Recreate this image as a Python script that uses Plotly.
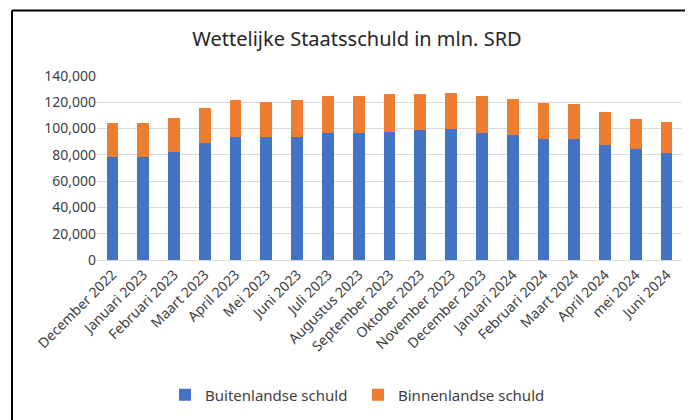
import plotly.graph_objects as go

months = ["December 2022", "Januari 2023", "Februari 2023", "Maart 2023", "April 2023",
          "Mei 2023", "Juni 2023", "Juli 2023", "Augustus 2023", "September 2023",
          "Oktober 2023", "November 2023", "December 2023", "Januari 2024", "Februari 2024",
          "Maart 2024", "April 2024", "mei 2024", "Juni 2024"]
totaal = [104000, 104000, 108300, 115900, 121500, 120500, 121500, 124800, 124800, 126100,
          126100, 126800, 124800, 122500, 119500, 118400, 112900, 107300, 105300]
buitenlandse = [78100, 78100, 82400, 89000, 93300, 93300, 93300, 96600, 96600, 97650,
                98650, 99700, 96600, 95400, 92100, 92100, 87800, 84500, 81200]
binnenlandse = [t - b for t, b in zip(totaal, buitenlandse)]

OFF = 8  # default page body margin
W, H = 693 - OFF, 420 - OFF
# plot area in page pixels
PL, PR, PT, PB = 97, 682, 76, 260
L, R, T, B = PL - OFF, W - (PR - OFF), PT - OFF, H - (PB - OFF)
pw, ph = PR - PL, PB - PT

def px(x):  # page x -> paper
    return (x - PL) / pw

def py(y):  # page y -> paper
    return (PB - y) / ph

font = "Noto Sans, Liberation Sans, sans-serif"

fig = go.Figure()
fig.add_trace(go.Bar(x=months, y=buitenlandse, name="Buitenlandse schuld",
                     marker=dict(color="#4472C4", line=dict(width=0))))
fig.add_trace(go.Bar(x=months, y=binnenlandse, name="Binnenlandse schuld",
                     marker=dict(color="#ED7D31", line=dict(width=0))))

fig.update_layout(
    width=W, height=H,
    barmode="stack", bargap=0.62,
    margin=dict(l=L, r=R, t=T, b=B, autoexpand=False),
    paper_bgcolor="white", plot_bgcolor="white",
    font=dict(family=font, color="#404040", size=14),
    title=dict(text="Wettelijke Staatsschuld in mln. SRD", xref="paper", x=px(357),
               xanchor="center", yref="container", y=1 - (39 - OFF) / H, yanchor="middle",
               font=dict(family=font, size=20, color="#262626")),
    showlegend=True,
    legend=dict(orientation="h", x=px(358), xanchor="center", y=py(395), yanchor="middle",
                font=dict(size=15, color="#404040"), itemwidth=30, traceorder="normal",
                entrywidthmode="pixels", entrywidth=148),
    xaxis=dict(tickangle=-45, showgrid=False, showline=True, linecolor="#d9d9d9",
               ticks="", tickfont=dict(size=14, color="#404040")),
    yaxis=dict(range=[0, 140000], dtick=20000, tickformat=",", showgrid=True,
               gridcolor="#d9d9d9", gridwidth=1, zeroline=False, ticks="",
               tickfont=dict(size=14, color="#404040")),
    shapes=[
        dict(type="line", xref="paper", yref="paper", x0=px(12), x1=px(12),
             y0=py(425), y1=py(10.5), line=dict(color="black", width=2)),
        dict(type="line", xref="paper", yref="paper", x0=px(12), x1=px(689),
             y0=py(10.5), y1=py(10.5), line=dict(color="black", width=2)),
    ],
)

fig.write_html("out.html")
